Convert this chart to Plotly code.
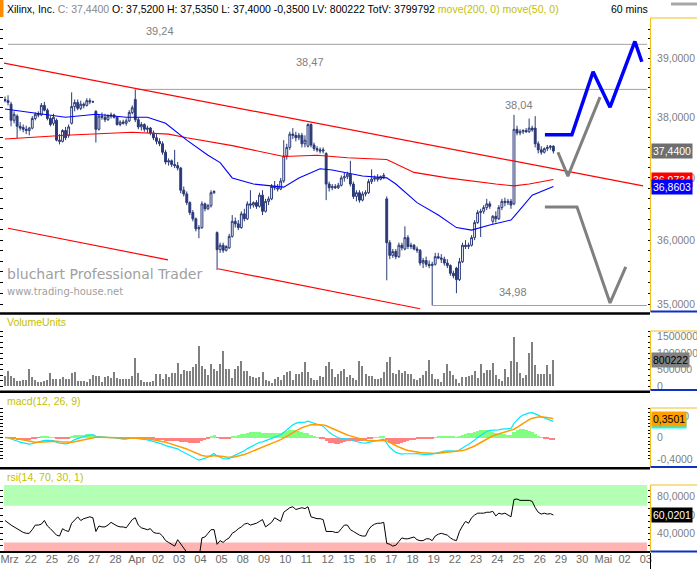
import numpy as np
import pandas as pd
import plotly.graph_objects as go

# ---------------- data ----------------
day_labels = ["Mrz", "22", "25", "26", "27", "28", "Apr", "02", "03", "04", "05", "08", "09", "10", "11", "12",
              "15", "16", "17", "18", "19", "22", "23", "24", "25", "26", "29", "30", "Mai", "02", "03"]
BARS_PER_DAY = 7

open_p = [38.30, 38.28, 38.22, 37.95, 38.02, 37.85, 37.83,
          37.80, 37.78, 37.82, 37.98, 38.05, 38.04, 38.20,
          38.12, 37.98, 37.90, 37.95, 37.62, 37.60, 37.78,
          37.70, 37.90, 38.18, 38.25, 38.15, 38.22, 38.20,
          38.28, 38.26, 38.10, 37.80, 38.02, 38.00, 37.96,
          38.02, 38.04, 38.00, 37.88, 37.92, 37.90, 37.94,
          38.08, 38.30, 37.96, 37.84, 37.88, 37.80, 37.82,
          37.74, 37.66, 37.60, 37.56, 37.42, 37.26, 37.28,
          37.22, 37.20, 37.16, 36.80, 36.74, 36.60, 36.44,
          36.34, 36.18, 36.20, 36.58, 36.50, 36.55, 36.76,
          36.12, 35.85, 35.92, 35.84, 35.88, 36.06, 36.30,
          36.26, 36.20, 36.42, 36.34, 36.58, 36.56, 36.60,
          36.54, 36.72, 36.46, 36.62, 36.66, 36.86, 36.84,
          36.82, 36.95, 37.36, 37.50, 37.72, 37.70, 37.66,
          37.70, 37.56, 37.52, 37.88, 37.54, 37.48, 37.46,
          37.44, 37.40, 36.90, 36.84, 36.86, 36.84, 36.88,
          37.00, 37.02, 37.06, 36.90, 36.70, 36.76, 36.64,
          36.74, 36.76, 36.94, 36.98, 37.00, 36.98, 37.02,
          36.66, 35.96, 35.76, 35.82, 35.74, 35.92, 35.86,
          36.04, 35.90, 35.92, 35.86, 35.84, 35.64, 35.68,
          35.62, 35.60, 35.62, 35.74, 35.72, 35.70, 35.64,
          35.60, 35.48, 35.56, 35.38, 35.66, 35.92, 35.90,
          35.92, 36.04, 36.28, 36.44, 36.46, 36.52, 36.58,
          36.30, 36.38, 36.34, 36.52, 36.62, 36.60, 36.62,
          36.58, 37.80, 37.74, 37.76, 37.78, 37.76, 37.82,
          37.82, 37.56, 37.46, 37.42, 37.48, 37.50, 37.52]
high_p = [38.35, 38.37, 38.26, 38.10, 38.05, 37.92, 37.88,
          37.86, 37.84, 38.02, 38.08, 38.10, 38.24, 38.26,
          38.15, 38.02, 38.06, 37.98, 37.72, 37.80, 37.84,
          37.88, 38.42, 38.30, 38.30, 38.28, 38.25, 38.32,
          38.32, 38.28, 38.12, 38.05, 38.08, 38.06, 38.05,
          38.08, 38.06, 38.02, 37.95, 37.96, 37.98, 38.12,
          38.20, 38.47, 38.00, 37.92, 37.90, 37.86, 37.84,
          37.78, 37.72, 37.65, 37.60, 37.46, 37.32, 37.30,
          37.46, 37.26, 37.18, 36.86, 36.78, 36.62, 36.48,
          36.36, 36.24, 36.62, 36.60, 36.58, 36.80, 36.80,
          36.14, 35.96, 35.96, 35.92, 36.10, 36.40, 36.36,
          36.32, 36.46, 36.50, 36.62, 36.80, 36.62, 36.64,
          36.76, 36.80, 36.66, 36.70, 36.90, 36.95, 36.90,
          37.00, 37.62, 37.56, 37.76, 37.82, 37.76, 37.74,
          37.74, 37.70, 37.90, 37.90, 37.58, 37.52, 37.50,
          37.50, 37.42, 36.94, 36.90, 36.90, 36.92, 37.04,
          37.08, 37.10, 37.28, 36.94, 36.80, 36.80, 36.78,
          36.80, 36.98, 37.14, 37.04, 37.06, 37.04, 37.08,
          36.70, 36.00, 35.86, 35.86, 35.96, 35.96, 36.22,
          36.08, 35.96, 35.94, 35.90, 35.86, 35.72, 35.74,
          35.68, 35.66, 35.80, 35.80, 35.78, 35.74, 35.70,
          35.62, 35.52, 35.58, 35.72, 35.96, 36.00, 35.96,
          36.08, 36.32, 36.48, 36.50, 36.56, 36.66, 36.62,
          36.40, 36.46, 36.56, 36.66, 36.68, 36.66, 36.66,
          38.04, 37.86, 37.80, 37.80, 37.82, 37.98, 37.86,
          38.02, 37.60, 37.52, 37.50, 37.54, 37.54, 37.535]
low_p = [38.25, 38.20, 37.85, 37.90, 37.65, 37.78, 37.75,
         37.72, 37.70, 37.80, 37.95, 38.00, 38.02, 38.10,
         37.95, 37.85, 37.86, 37.60, 37.55, 37.58, 37.62,
         37.66, 37.88, 38.10, 38.12, 38.12, 38.15, 38.18,
         38.22, 38.24, 37.58, 37.78, 37.96, 37.92, 37.94,
         37.98, 37.98, 37.86, 37.85, 37.88, 37.86, 37.92,
         38.05, 37.92, 37.80, 37.78, 37.76, 37.74, 37.70,
         37.62, 37.55, 37.52, 37.38, 37.22, 37.20, 37.18,
         37.16, 37.12, 36.75, 36.70, 36.56, 36.40, 36.30,
         36.14, 36.03, 36.18, 36.46, 36.48, 36.52, 36.74,
         35.53, 35.80, 35.80, 35.82, 35.86, 36.04, 36.20,
         36.16, 36.18, 36.30, 36.32, 36.50, 36.52, 36.50,
         36.52, 36.40, 36.44, 36.56, 36.64, 36.80, 36.78,
         36.80, 36.92, 37.30, 37.46, 37.64, 37.60, 37.62,
         37.50, 37.50, 37.50, 37.50, 37.44, 37.42, 37.40,
         37.40, 36.64, 36.78, 36.80, 36.82, 36.82, 36.86,
         36.94, 36.98, 36.86, 36.66, 36.62, 36.60, 36.62,
         36.70, 36.74, 36.90, 36.94, 36.94, 36.96, 36.98,
         35.37, 35.70, 35.72, 35.70, 35.72, 35.84, 35.84,
         35.86, 35.86, 35.84, 35.80, 35.60, 35.56, 35.58,
         35.56, 34.98, 35.60, 35.70, 35.64, 35.60, 35.56,
         35.44, 35.40, 35.17, 35.36, 35.64, 35.86, 35.86,
         35.90, 36.00, 36.26, 36.05, 36.42, 36.48, 36.50,
         36.26, 36.28, 36.32, 36.48, 36.54, 36.56, 36.50,
         36.56, 37.70, 37.70, 37.72, 37.74, 37.74, 37.76,
         37.50, 37.40, 37.38, 37.40, 37.44, 37.46, 37.40]
close_p = [38.28, 38.25, 37.95, 38.05, 37.85, 37.82, 37.80,
           37.78, 37.82, 37.98, 38.05, 38.04, 38.20, 38.12,
           37.98, 37.88, 38.00, 37.62, 37.60, 37.78, 37.66,
           37.84, 38.18, 38.25, 38.15, 38.22, 38.20, 38.28,
           38.26, 38.26, 37.80, 38.02, 38.00, 37.96, 38.02,
           38.04, 38.00, 37.88, 37.92, 37.90, 37.94, 38.08,
           38.16, 37.96, 37.84, 37.88, 37.80, 37.82, 37.74,
           37.66, 37.60, 37.56, 37.42, 37.26, 37.28, 37.22,
           37.20, 37.16, 36.80, 36.74, 36.60, 36.44, 36.34,
           36.18, 36.20, 36.58, 36.50, 36.55, 36.76, 36.78,
           35.85, 35.92, 35.84, 35.90, 36.06, 36.30, 36.26,
           36.20, 36.42, 36.34, 36.58, 36.56, 36.60, 36.54,
           36.72, 36.46, 36.62, 36.66, 36.86, 36.84, 36.82,
           36.95, 37.36, 37.50, 37.72, 37.70, 37.66, 37.70,
           37.56, 37.62, 37.88, 37.54, 37.48, 37.46, 37.44,
           37.46, 36.90, 36.84, 36.86, 36.84, 36.88, 37.00,
           37.02, 37.06, 36.90, 36.70, 36.76, 36.64, 36.74,
           36.76, 36.94, 36.98, 37.00, 36.98, 37.02, 37.04,
           35.96, 35.76, 35.82, 35.74, 35.92, 35.88, 36.04,
           35.90, 35.92, 35.86, 35.84, 35.64, 35.68, 35.62,
           35.60, 35.62, 35.74, 35.72, 35.70, 35.64, 35.60,
           35.48, 35.44, 35.38, 35.66, 35.92, 35.90, 35.92,
           36.04, 36.28, 36.44, 36.46, 36.52, 36.58, 36.54,
           36.38, 36.34, 36.52, 36.62, 36.60, 36.62, 36.56,
           37.80, 37.74, 37.76, 37.78, 37.76, 37.82, 37.79,
           37.56, 37.46, 37.42, 37.48, 37.50, 37.52, 37.44]

volume = [300000, 450000, 300000, 230000, 150000, 150000, 170000, 180000, 520000, 270000,
          180000, 120000, 130000, 160000, 180000, 390000, 220000, 200000, 220000, 260000,
          220000, 210000, 390000, 430000, 140000, 150000, 150000, 130000, 210000, 330000,
          300000, 300000, 120000, 270000, 300000, 250000, 430000, 240000, 210000, 200000,
          200000, 210000, 300000, 850000, 400000, 180000, 120000, 120000, 120000, 150000,
          360000, 360000, 220000, 360000, 270000, 400000, 400000, 710000, 360000, 480000,
          460000, 440000, 580000, 680000, 1220000, 610000, 510000, 340000, 660000, 510000,
          440000, 680000, 1070000, 520000, 520000, 240000, 530000, 610000, 760000, 450000,
          450000, 290000, 270000, 250000, 270000, 420000, 180000, 160000, 100000, 210000,
          270000, 180000, 330000, 430000, 450000, 170000, 370000, 360000, 410000, 740000,
          420000, 240000, 180000, 180000, 290000, 280000, 610000, 740000, 530000, 280000,
          360000,
          470000, 520000, 260000, 330000, 250000, 180000, 760000, 600000, 360000, 300000,
          300000, 200000, 220000, 240000, 420000, 730000, 880000, 390000, 370000, 480000,
          390000, 450000, 370000, 370000, 210000, 170000, 230000, 330000, 450000, 790000,
          360000, 210000, 210000, 130000, 390000, 680000, 450000, 330000, 200000, 100000,
          260000, 260000, 290000, 330000, 450000, 230000, 670000, 390000, 490000, 490000,
          700000, 330000, 200000, 150000, 520000, 270000, 760000, 1480000, 730000, 400000,
          240000, 330000, 1000000, 1330000, 640000, 360000, 350000, 370000, 640000, 360000,
          800222]

rsi = [54, 51, 49, 47, 45, 43, 41, 40, 40, 44, 49, 49, 50, 54,
       48, 45, 42, 38, 37, 45, 43, 42, 51, 55, 58, 54, 56, 57,
       58, 57, 42, 48, 47, 47, 49, 52, 50, 48, 47, 47, 46, 51,
       55, 57, 49, 46, 45, 44, 45, 41, 40, 40, 37, 32, 30, 28,
       26, 33, 28, 22, 17, 12, 10, 9, 12, 35, 36, 40, 44, 44,
       28, 32, 30, 33, 35, 40, 42, 45, 47, 50, 51, 49, 50, 51,
       53, 55, 47, 50, 52, 57, 55, 53, 63, 66, 68, 69, 66, 67,
       68, 67, 69, 58, 57, 56, 56, 55, 42, 42, 42, 41, 41, 45,
       49, 49, 44, 42, 40, 38, 37, 37, 44, 48, 50, 51, 51, 52,
       29, 28, 26, 27, 31, 35, 34, 34, 35, 36, 33, 32, 32, 34,
       34, 32, 37, 39, 40, 39, 38, 35, 33, 32, 42, 48, 53, 51,
       57, 60, 62, 62, 62, 63, 63, 64, 59, 62, 61, 62, 60, 58,
       77, 77.5, 76, 76, 76, 76, 75, 68, 63, 61, 62, 61, 61.5, 60.0201]

ma50_x = [0, 9, 20, 30, 40, 47, 53, 60, 67, 71, 75, 82, 87, 92, 97, 104, 108, 113, 118, 126,
          129, 136, 143, 149, 154, 160, 167, 169, 174, 181]
ma50_y = [38.14, 38.08, 38.00, 38.05, 38.00, 38.00, 37.90, 37.62, 37.37, 37.25, 37.00, 36.90,
          36.87, 36.85, 37.00, 37.15, 37.13, 37.08, 37.03, 37.00, 36.90, 36.60, 36.40, 36.20,
          36.16, 36.24, 36.32, 36.43, 36.72, 36.8603]
ma200_x = [0, 20, 42, 54, 60, 75, 92, 103, 113, 126, 135, 146, 162, 168, 173, 181]
ma200_y = [37.64, 37.70, 37.75, 37.72, 37.66, 37.53, 37.35, 37.37, 37.33, 37.30, 37.09, 37.00,
           36.90, 36.87, 36.90, 36.9734]

chan_upper_x = [-0.66, 210.6]
chan_upper_y = [38.92, 36.87]
chan_low1_x = [1, 53.8]
chan_low1_y = [36.19, 35.69]
chan_low2_x = [70.3, 137]
chan_low2_y = [35.55, 34.93]

level_values = [39.24, 38.47, 34.98]
level_start = [1, 43.5, 141]
level_labels = ["39,24", "38,47", "34,98"]

proj_blue_x = [178.2, 187.1, 194.1, 199.7, 207.9, 210.2]
proj_blue_y = [37.71, 37.71, 38.77, 38.17, 39.29, 38.94]
proj_gray1_x = [182.5, 185.8, 196.4]
proj_gray1_y = [37.42, 37.03, 38.34]
proj_gray2_x = [178.2, 188.8, 199.7, 204.9]
proj_gray2_y = [36.53, 36.53, 35.02, 35.58]

# ---------------- helpers ----------------
W, H = 697, 569
ML, MR, MT, MB = 4, 50, 0, 17
PW, PH = W - ML - MR, H - MT - MB


def PX(x):
    return (x - ML) / PW


def PY(y):
    return (PH + MT - y) / PH


def de(v, d=4):
    return f"{v:.{d}f}".replace(".", ",")


FONT = "Liberation Sans, Arial, sans-serif"
NAVY = "#2a3978"
OLIVE = "#c4c000"
GRAYTXT = "#808080"

n = len(close_p)
xi = np.arange(n)

c = pd.Series(close_p)
ema12 = c.ewm(span=12, adjust=False).mean()
ema26 = c.ewm(span=26, adjust=False).mean()
macd = ema12 - ema26
signal = macd.ewm(span=9, adjust=False).mean()
hist = macd - signal

fig = go.Figure()

# main panel
fig.add_trace(go.Candlestick(x=xi, open=open_p, high=high_p, low=low_p, close=close_p,
                             increasing=dict(line=dict(color=NAVY, width=1), fillcolor="white"),
                             decreasing=dict(line=dict(color=NAVY, width=1), fillcolor=NAVY),
                             whiskerwidth=0, xaxis="x", yaxis="y", showlegend=False))
for v, s in zip(level_values, level_start):
    fig.add_trace(go.Scatter(x=[s, 215], y=[v, v], mode="lines", line=dict(color="#a0a0a0", width=1),
                             xaxis="x", yaxis="y", showlegend=False, hoverinfo="skip"))
fig.add_trace(go.Scatter(x=ma200_x, y=ma200_y, mode="lines", line=dict(color="#ff0000", width=1.1),
                         xaxis="x", yaxis="y", showlegend=False))
fig.add_trace(go.Scatter(x=ma50_x, y=ma50_y, mode="lines", line=dict(color="#0000ff", width=1.1),
                         xaxis="x", yaxis="y", showlegend=False))
for cx, cy in [(chan_upper_x, chan_upper_y), (chan_low1_x, chan_low1_y), (chan_low2_x, chan_low2_y)]:
    fig.add_trace(go.Scatter(x=cx, y=cy, mode="lines", line=dict(color="#ff0000", width=1.2),
                             xaxis="x", yaxis="y", showlegend=False))
fig.add_trace(go.Scatter(x=proj_gray1_x, y=proj_gray1_y, mode="lines", line=dict(color="#808080", width=3),
                         xaxis="x", yaxis="y", showlegend=False))
fig.add_trace(go.Scatter(x=proj_gray2_x, y=proj_gray2_y, mode="lines", line=dict(color="#808080", width=3),
                         xaxis="x", yaxis="y", showlegend=False))
fig.add_trace(go.Scatter(x=proj_blue_x, y=proj_blue_y, mode="lines", line=dict(color="#0000ff", width=3.5),
                         xaxis="x", yaxis="y", showlegend=False))

# volume
fig.add_trace(go.Bar(x=xi, y=volume, width=0.34, marker=dict(color="#808080", line=dict(width=0)),
                     xaxis="x2", yaxis="y2", showlegend=False))

# macd
hcol = ["#80ff80" if h >= 0 else "#ff8080" for h in hist]
fig.add_trace(go.Bar(x=xi, y=hist, width=1.0, marker=dict(color=hcol, line=dict(width=0)),
                     xaxis="x3", yaxis="y3", showlegend=False))
fig.add_trace(go.Scatter(x=xi, y=macd, mode="lines", line=dict(color="#00e8ff", width=1.2),
                         xaxis="x3", yaxis="y3", showlegend=False))
fig.add_trace(go.Scatter(x=xi, y=signal, mode="lines", line=dict(color="#ff9c00", width=1.5),
                         xaxis="x3", yaxis="y3", showlegend=False))

# rsi
fig.add_trace(go.Scatter(x=xi, y=rsi, mode="lines", line=dict(color="black", width=1),
                         xaxis="x4", yaxis="y4", showlegend=False))

# ---------------- axes ----------------
XR = [-0.33, 211.9]
tickfont = dict(family=FONT, size=10.5, color=GRAYTXT)


def yax(domain, anchor, rng, vals, texts, **kw):
    d = dict(domain=domain, anchor=anchor, range=rng, side="right", tickmode="array",
             tickvals=vals, ticktext=texts, ticks="outside", ticklen=3, tickcolor="black",
             tickwidth=1, mirror="ticks", showgrid=False, zeroline=False, showline=False,
             tickfont=tickfont, ticklabelstandoff=4, fixedrange=True)
    d.update(kw)
    return d


main_vals = [35 + k / 6 for k in range(0, 28)]
main_txt = [de(v) if k % 6 == 0 else "" for k, v in enumerate(main_vals)]
vol_vals = [k * 1e6 / 6 for k in range(0, 11)]
vol_txt = [(str(int(round(v))) if k % 3 == 0 else "") for k, v in enumerate(vol_vals)]
macd_vals = [k * 0.4 / 6 for k in range(-6, 9)]
macd_txt = [("0" if k == 0 else de(k * 0.4 / 6)) if k % 6 == 0 else "" for k in range(-6, 9)]
rsi_vals = [20 + k * 20 / 3 for k in range(1, 11)]
rsi_txt = [de(v) if k % 3 == 0 else "" for k, v in zip(range(1, 11), rsi_vals)]

main_dom = [PY(312), PY(19)]
vol_dom = [PY(390), PY(315)]
macd_dom = [PY(467), PY(393)]
rsi_dom = [PY(551), PY(485)]

xcommon = dict(showgrid=False, zeroline=False, showline=False, ticks="", fixedrange=True)
fig.update_layout(
    width=W, height=H, margin=dict(l=ML, r=MR, t=MT, b=MB),
    paper_bgcolor="white", plot_bgcolor="white", showlegend=False, bargap=0, boxgap=0.12,
    font=dict(family=FONT, size=10.5, color="black"),
    xaxis=dict(domain=[0, 1], anchor="y", range=XR, showticklabels=False,
               rangeslider=dict(visible=False), **xcommon),
    xaxis2=dict(domain=[0, 1], anchor="y2", matches="x", range=XR, showticklabels=False, **xcommon),
    xaxis3=dict(domain=[0, 1], anchor="y3", matches="x", range=XR, showticklabels=False, **xcommon),
    xaxis4=dict(domain=[0, 1], anchor="y4", matches="x", range=XR, tickmode="array",
                tickvals=[BARS_PER_DAY * k + 1.5 for k in range(len(day_labels))], ticktext=day_labels,
                tickfont=dict(family=FONT, size=11, color="#6a6a6a"), **xcommon),
    yaxis=yax(main_dom, "x", [np.log10(34.88), np.log10(39.68)], main_vals, main_txt, type="log"),
    yaxis2=yax(vol_dom, "x2", [-121000, 2151500], vol_vals, vol_txt),
    yaxis3=yax(macd_dom, "x3", [-0.549, 0.828], macd_vals, macd_txt),
    yaxis4=yax(rsi_dom, "x4", [20.66, 92.8], rsi_vals, rsi_txt),
)

# ---------------- shapes ----------------
shapes = []
shapes.append(dict(type="rect", xref="paper", yref="y4", x0=0, x1=1, y0=70, y1=92.8,
                   fillcolor="#b3ffb3", line=dict(width=0), layer="below"))
shapes.append(dict(type="rect", xref="paper", yref="y4", x0=0, x1=1, y0=20.66, y1=30,
                   fillcolor="#ffb3b3", line=dict(width=0), layer="below"))
for yy, th in [(313.5, 2.5), (391.7, 2.5), (468.3, 2.5), (552, 2)]:
    shapes.append(dict(type="line", xref="paper", yref="paper", x0=PX(0), x1=PX(650),
                       y0=PY(yy), y1=PY(yy), line=dict(color="black", width=th)))
for top, bot in [(18, 311.5), (331, 390), (408, 467), (485, 551.5)]:
    shapes.append(dict(type="line", xref="paper", yref="paper", x0=PX(650.5), x1=PX(650.5),
                       y0=PY(top), y1=PY(bot), line=dict(color="#f0c020", width=1.2)))
    shapes.append(dict(type="line", xref="paper", yref="paper", x0=PX(650.5), x1=PX(697),
                       y0=PY(top), y1=PY(top), line=dict(color="#f0c020", width=1.2)))
    shapes.append(dict(type="line", xref="paper", yref="paper", x0=PX(650.5), x1=PX(697),
                       y0=PY(bot), y1=PY(bot), line=dict(color="#1030c0", width=2)))
shapes.append(dict(type="rect", xref="paper", yref="paper", x0=PX(0), x1=PX(3.5), y0=PY(0), y1=PY(17),
                   fillcolor="#ff8c00", line=dict(width=0)))
shapes.append(dict(type="rect", xref="paper", yref="paper", x0=PX(671), x1=PX(697), y0=PY(2.5), y1=PY(5.5),
                   fillcolor="#a8a8a8", line=dict(width=0)))
shapes.append(dict(type="line", xref="paper", yref="paper", x0=PX(650.5), x1=PX(650.5), y0=PY(553), y1=PY(569),
                   line=dict(color="black", width=1)))
fig.update_layout(shapes=shapes)

# ---------------- annotations ----------------
ann = []


def txt(x, y, s, color="black", size=10.5, family=FONT, xanchor="left", **kw):
    d = dict(x=PX(x), y=PY(y), xref="paper", yref="paper", text=s, showarrow=False,
             xanchor=xanchor, yanchor="middle", font=dict(family=family, size=size, color=color))
    d.update(kw)
    ann.append(d)


chg = close_p[-1] - close_p[-1 - BARS_PER_DAY]
header = (f"Xilinx, Inc. <span style='color:#888888'>C: {de(close_p[-1])}</span> "
          f"O: {de(open_p[-1])} H: {de(high_p[-1])} L: {de(low_p[-1])} {de(chg)} "
          f"LV: {volume[-1]} TotV: 3799792 "
          f"<span style='color:{OLIVE}'>move(200, 0) move(50, 0)</span>")
txt(5, 9, header)
txt(609, 9, "60 mins")

txt(5, 322, "VolumeUnits", color=OLIVE)
txt(5, 401, "macd(12, 26, 9)", color=OLIVE)
txt(5, 477, "rsi(14, 70, 30, 1)", color=OLIVE)

txt(5, 274, "bluchart Professional Trader", color="#a0a0a0", size=14, family="DejaVu Sans")
txt(5, 291, "www.trading-house.net", color="#a0a0a0", size=10, family="DejaVu Sans")

recent_high = max(high_p[-2 * BARS_PER_DAY:])
txt(160, 31, level_labels[0], color=GRAYTXT, size=11, xanchor="center")
txt(310, 62, level_labels[1], color=GRAYTXT, size=11, xanchor="center")
txt(519, 105, de(recent_high, 2), color=GRAYTXT, size=11, xanchor="center")
txt(513, 292, level_labels[2], color=GRAYTXT, size=11, xanchor="center")


def badge(yval, yref, s, bg, fg):
    ann.append(dict(x=PX(651), y=yval, xref="paper", yref=yref, text=s, showarrow=False,
                    xanchor="left", yanchor="middle", bgcolor=bg, borderpad=1,
                    font=dict(family=FONT, size=10.5, color=fg)))


badge(np.log10(close_p[-1]), "y", de(close_p[-1]), "#6e6e6e", "white")
badge(np.log10(ma200_y[-1]), "y", de(ma200_y[-1]), "#ff0000", "white")
badge(np.log10(ma50_y[-1]), "y", de(ma50_y[-1]), "#0000ff", "white")
badge(volume[-1], "y2", str(volume[-1]), "#808080", "black")
badge(float(macd.iloc[-1]), "y3", de(float(macd.iloc[-1])), "#00ffff", "black")
badge(float(signal.iloc[-1]), "y3", de(float(signal.iloc[-1])), "#ffa000", "black")
badge(rsi[-1], "y4", de(rsi[-1]), "black", "white")

fig.update_layout(annotations=ann)

fig.write_html("out.html")
